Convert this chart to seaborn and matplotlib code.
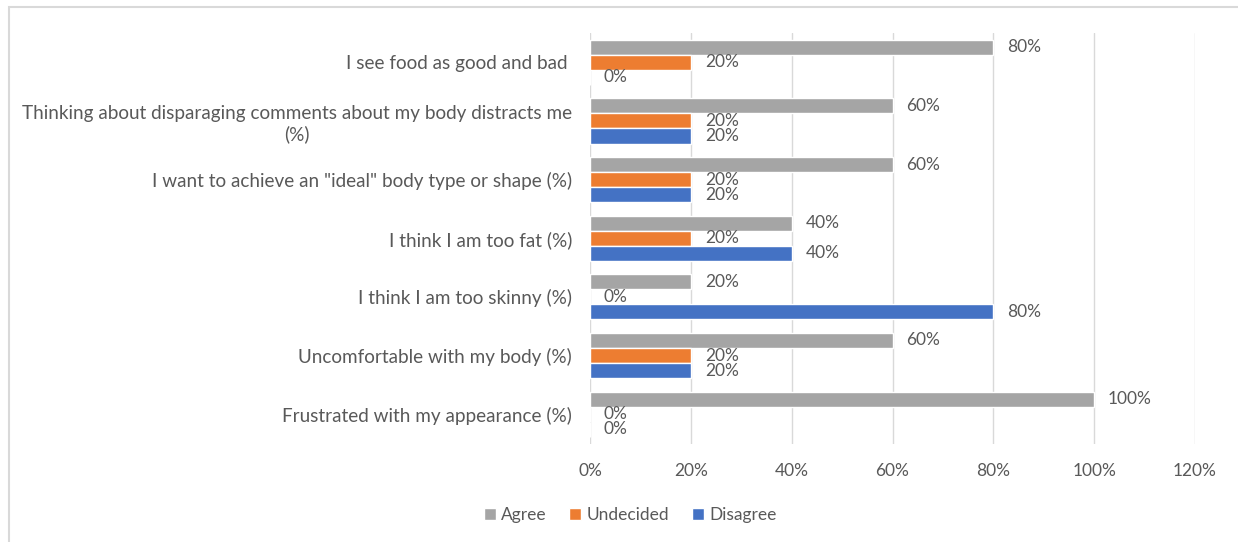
import matplotlib
matplotlib.use("Agg")
import matplotlib.pyplot as plt
import seaborn as sns
import pandas as pd
from matplotlib.patches import Rectangle

categories = [
    "I see food as good and bad ",
    "Thinking about disparaging comments about my body distracts me\n(%)",
    'I want to achieve an "ideal" body type or shape (%)',
    "I think I am too fat (%)",
    "I think I am too skinny (%)",
    "Uncomfortable with my body (%)",
    "Frustrated with my appearance (%)",
]
series_names = ["Agree", "Undecided", "Disagree"]
agree = [80, 60, 60, 40, 20, 60, 100]
undecided = [20, 20, 20, 20, 0, 20, 0]
disagree = [0, 20, 20, 40, 80, 20, 0]
x_ticks = [0, 20, 40, 60, 80, 100, 120]
colors = ["#A5A5A5", "#ED7D31", "#4472C4"]

rows = []
for name, vals in zip(series_names, [agree, undecided, disagree]):
    for c, v in zip(categories, vals):
        rows.append({"category": c, "response": name, "value": v})
df = pd.DataFrame(rows)

sns.set_theme(style="white")
plt.rcParams["font.family"] = ["Lato", "DejaVu Sans"]
text_color = "#595959"

fig = plt.figure(figsize=(12.38, 5.42), dpi=100)
ax = fig.add_axes([590 / 1238, 1 - 443.5 / 542, 605 / 1238, (443.5 - 33) / 542])

sns.barplot(data=df, x="value", y="category", hue="response", order=categories,
            hue_order=series_names, palette=colors, orient="h", width=0.77,
            saturation=1, ax=ax, legend=True)

for cont in ax.containers:
    ax.bar_label(cont, labels=[f"{v:.0f}%" for v in cont.datavalues],
                 padding=10, fontsize=12.5, color=text_color)

ax.set_xlim(0, 120)
ax.set_xticks(x_ticks)
ax.set_xticklabels([f"{t}%" for t in x_ticks])
ax.set_xlabel("")
ax.set_ylabel("")
ax.grid(axis="x", color="#D9D9D9", linewidth=1)
ax.grid(axis="y", visible=False)
ax.set_axisbelow(True)
for s in ax.spines.values():
    s.set_visible(False)
ax.tick_params(axis="x", length=0, pad=14, labelsize=12.5, labelcolor=text_color)
ax.tick_params(axis="y", length=0, pad=13, labelsize=13.6, labelcolor=text_color)
for lbl in ax.get_yticklabels():
    lbl.set_multialignment("center")

handles, labels = ax.get_legend_handles_labels()
ax.legend(handles, labels, loc="center", bbox_to_anchor=(630 / 1238, 1 - 515 / 542),
          bbox_transform=fig.transFigure, ncol=3, frameon=False, fontsize=12.5,
          handlelength=0.7, handleheight=0.7, handletextpad=0.3, columnspacing=1.3,
          labelcolor=text_color)

fig.patches.append(Rectangle((9 / 1238, -0.1), 1.2, 1 - 7 / 542 + 0.1,
                             transform=fig.transFigure, fill=False,
                             edgecolor="#D9D9D9", linewidth=1.5))

fig.savefig("out.png", dpi=100)
